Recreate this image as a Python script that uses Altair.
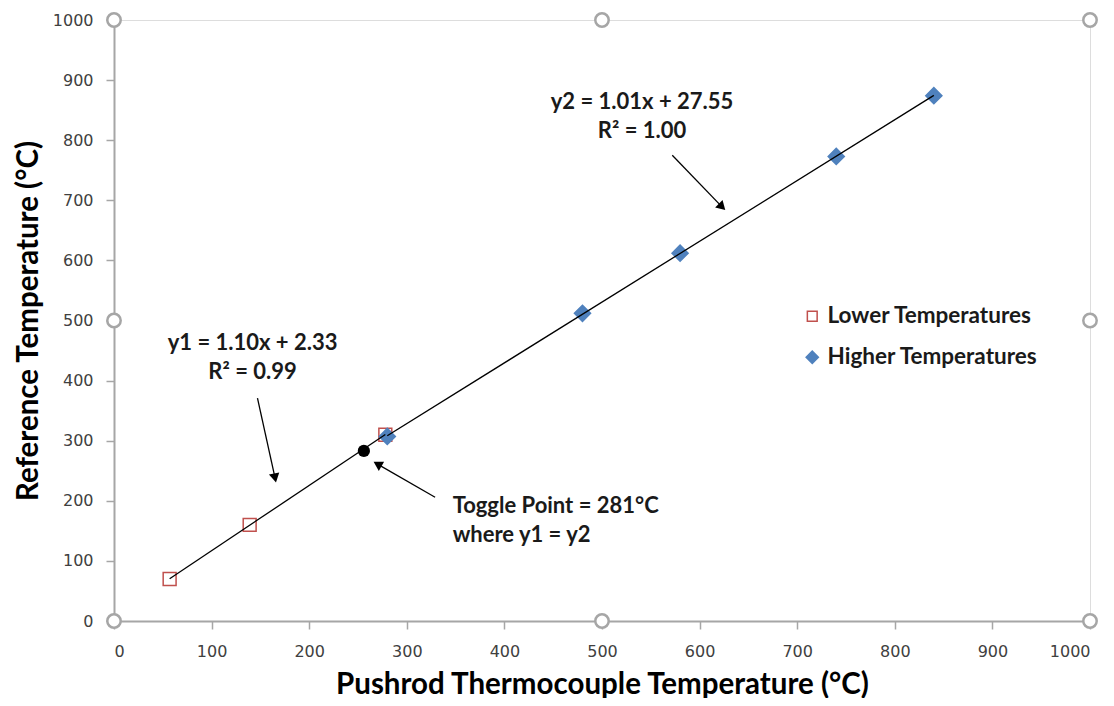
import altair as alt
import pandas as pd

# ---- data ----
series_names = ["Lower Temperatures", "Higher Temperatures"]
lower_x = [57, 139, 278]
lower_y = [70, 160, 310]
higher_x = [280, 480, 580, 740, 840]
higher_y = [307, 512, 612, 773, 874]

toggle_x = [256]
toggle_y = [283]

tick_values = [0, 100, 200, 300, 400, 500, 600, 700, 800, 900, 1000]

eq_labels = ["y1 = 1.10x + 2.33", "R² = 0.99", "y2 = 1.01x + 27.55", "R² = 1.00"]
eq_x = [142, 142, 541, 541]
eq_y = [463, 414, 864, 815]

toggle_labels = ["Toggle Point = 281°C", "where y1 = y2"]
toggle_lx = [347, 347]
toggle_ly = [191, 143]

arrow_x0 = [147, 572, 329]
arrow_y0 = [371, 775, 206]
arrow_x1 = [165, 623, 270]
arrow_y1 = [238, 689, 261]
arrow_angle = [168, 135, 300]

handle_x = [0, 500, 1000, 0, 1000, 0, 500, 1000]
handle_y = [1000, 1000, 1000, 500, 500, 0, 0, 0]

# ---- tables ----
pts = pd.DataFrame({
    "x": lower_x + higher_x,
    "y": lower_y + higher_y,
    "series": [series_names[0]] * len(lower_x) + [series_names[1]] * len(higher_x),
})
toggle = pd.DataFrame({"x": toggle_x, "y": toggle_y})
eqs = pd.DataFrame({"x": eq_x, "y": eq_y, "t": eq_labels})
tog = pd.DataFrame({"x": toggle_lx, "y": toggle_ly, "t": toggle_labels})
arrows = pd.DataFrame({"x": arrow_x0, "y": arrow_y0, "x2": arrow_x1, "y2": arrow_y1, "a": arrow_angle})
handles = pd.DataFrame({"x": handle_x, "y": handle_y})

FONT = "Lato"
TICKFONT = "DejaVu Sans"
GRAY = "#a6a6a6"

SQUARE = "M-0.8,-0.8L0.8,-0.8L0.8,0.8L-0.8,0.8Z"
DIAMOND = "M-1,0L0,-1L1,0L0,1Z"

common_axis = dict(values=tick_values, format="d",
                   titleFont=FONT, titleFontSize=29.5, titleFontWeight="bold", titleColor="black",
                   labelFont=TICKFONT, labelFontSize=16, labelColor="#404040",
                   tickColor=GRAY, tickSize=8, tickWidth=1.5, domainColor=GRAY, domainWidth=2,
                   grid=False)

x_enc = alt.X("x:Q", scale=alt.Scale(domain=[0, 1000], nice=False),
              axis=alt.Axis(title="Pushrod Thermocouple Temperature (°C)",
                            labelPadding=14, titlePadding=11, **common_axis))
y_enc = alt.Y("y:Q", scale=alt.Scale(domain=[0, 1000], nice=False),
              axis=alt.Axis(title="Reference Temperature (°C)",
                            labelPadding=13, titlePadding=9, **common_axis))

trend = alt.Chart(pts).transform_regression(
    "x", "y", groupby=["series"]
).mark_line(color="black", strokeWidth=1.3).encode(x=x_enc, y=y_enc, detail="series:N")

dom = series_names
shape_scale = alt.Scale(domain=dom, range=[SQUARE, DIAMOND])
stroke_scale = alt.Scale(domain=dom, range=["#c0504d", "#4f81bd"])
fill_scale = alt.Scale(domain=dom, range=["white", "#4f81bd"])

points = alt.Chart(pts).mark_point(filled=False, opacity=1, size=260, strokeWidth=1.5).encode(
    x=x_enc, y=y_enc,
    shape=alt.Shape("series:N", scale=shape_scale,
                    legend=alt.Legend(title=None, orient="none", legendX=687, legendY=285,
                                      labelFont=FONT, labelFontSize=22.5, labelFontWeight="bold",
                                      labelColor="#1a1a1a", symbolSize=150, rowPadding=18,
                                      labelOffset=4, labelLimit=0, symbolStrokeWidth=1.5)),
    stroke=alt.Stroke("series:N", scale=stroke_scale),
    fill=alt.Fill("series:N", scale=fill_scale),
)

tdot = alt.Chart(toggle).mark_point(shape="circle", filled=True, color="black", size=150, opacity=1).encode(x=x_enc, y=y_enc)

eq_text = alt.Chart(eqs).mark_text(font=FONT, fontSize=22, fontWeight="bold", color="#1a1a1a",
                                   align="center", baseline="middle").encode(x=x_enc, y=y_enc, text="t:N")
tog_text = alt.Chart(tog).mark_text(font=FONT, fontSize=22, fontWeight="bold", color="#1a1a1a",
                                    align="left", baseline="middle").encode(x=x_enc, y=y_enc, text="t:N")

arrow_lines = alt.Chart(arrows).mark_rule(color="black", strokeWidth=1.3).encode(
    x=x_enc, y=y_enc, x2="x2:Q", y2="y2:Q")
arrow_heads = alt.Chart(arrows).mark_point(shape="triangle-up", filled=True, color="black", size=110,
                                           opacity=1).encode(
    x=alt.X("x2:Q", scale=alt.Scale(domain=[0, 1000], nice=False)),
    y=alt.Y("y2:Q", scale=alt.Scale(domain=[0, 1000], nice=False)),
    angle=alt.Angle("a:Q", scale=None))

handle_pts = alt.Chart(handles).mark_point(shape="circle", filled=True, fill="white", stroke=GRAY,
                                           strokeWidth=2.5, size=180, opacity=1, clip=False).encode(
    x=x_enc, y=y_enc)

chart = alt.layer(
    points, trend, tdot, arrow_lines, arrow_heads, eq_text, tog_text, handle_pts
).properties(
    width=976, height=601,
    autosize=alt.AutoSizeParams(type="none"),
    padding={"left": 106, "top": 12, "right": 14, "bottom": 77},
).configure_view(stroke=GRAY, strokeWidth=2).configure(background="white")

chart.save("out.html", embed_options={"renderer": "svg", "actions": False})
